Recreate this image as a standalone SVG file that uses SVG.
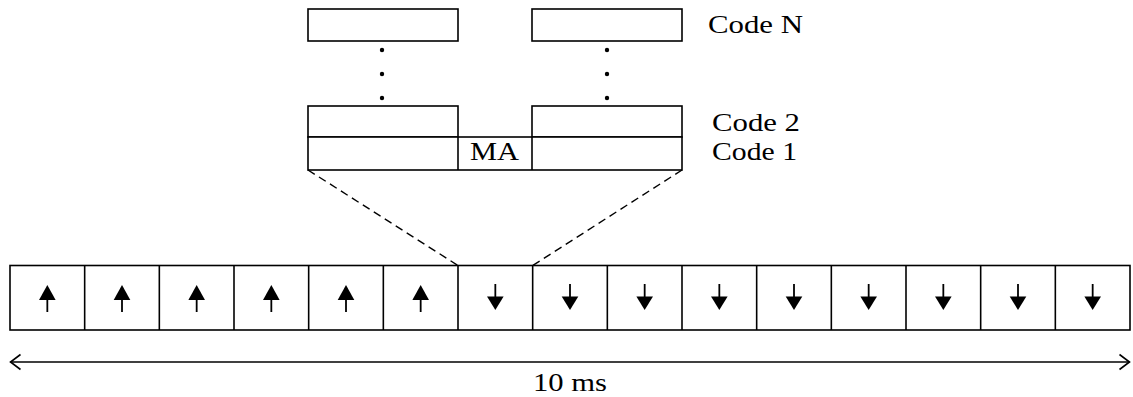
<svg xmlns="http://www.w3.org/2000/svg" width="1133" height="397" viewBox="0 0 1133 397">
  <style>
    .box { fill: #fff; stroke: #000; stroke-width: 1.6; }
    .ln { stroke: #000; stroke-width: 1.6; fill: none; }
    .dash { stroke: #000; stroke-width: 1.4; fill: none; stroke-dasharray: 8 5; }
    .lbl { font-family: "Liberation Serif", "Times New Roman", serif; font-size: 26px; fill: #000; }
    .tri { fill: #000; }
    .dot { fill: #000; }
  </style>
  <defs>
    <g id="up">
      <line x1="0" y1="298" x2="0" y2="312" stroke="#000" stroke-width="1.8"/>
      <polygon class="tri" points="0,285 -8.3,300 8.3,300"/>
    </g>
    <g id="down">
      <line x1="0" y1="284" x2="0" y2="298" stroke="#000" stroke-width="1.8"/>
      <polygon class="tri" points="0,310 -8.3,296.5 8.3,296.5"/>
    </g>
  </defs>

  <!-- Code N row -->
  <g id="codeN">
    <rect class="box" x="308" y="9" width="150" height="32"/>
    <rect class="box" x="532" y="9" width="150" height="32"/>
    <text class="lbl" x="708" y="33" textLength="95" lengthAdjust="spacingAndGlyphs">Code N</text>
  </g>

  <!-- vertical ellipsis between Code N and Code 2 -->
  <g id="ellipsis">
    <circle class="dot" cx="382" cy="50" r="2.2"/>
    <circle class="dot" cx="382" cy="74" r="2.2"/>
    <circle class="dot" cx="382" cy="98" r="2.2"/>
    <circle class="dot" cx="607" cy="50" r="2.2"/>
    <circle class="dot" cx="607" cy="74" r="2.2"/>
    <circle class="dot" cx="607" cy="98" r="2.2"/>
  </g>

  <!-- Code 2 row -->
  <g id="code2">
    <rect class="box" x="308" y="106" width="150" height="31"/>
    <rect class="box" x="532" y="106" width="150" height="31"/>
    <text class="lbl" x="712" y="131" textLength="88" lengthAdjust="spacingAndGlyphs">Code 2</text>
  </g>

  <!-- Code 1 row with MA slot -->
  <g id="code1">
    <rect class="box" x="308" y="137" width="374" height="33"/>
    <line class="ln" x1="458" y1="137" x2="458" y2="170"/>
    <line class="ln" x1="532" y1="137" x2="532" y2="170"/>
    <text class="lbl" x="712" y="160" textLength="85" lengthAdjust="spacingAndGlyphs">Code 1</text>
  </g>
  <g id="ma">
    <text class="lbl" x="470" y="160" textLength="49" lengthAdjust="spacingAndGlyphs">MA</text>
  </g>

  <!-- frame of 15 slots -->
  <g id="frame">
    <rect class="box" x="10" y="265.5" width="1120" height="64.5"/>
    <g class="ln">
      <line x1="84.67" y1="265.5" x2="84.67" y2="330"/>
      <line x1="159.33" y1="265.5" x2="159.33" y2="330"/>
      <line x1="234" y1="265.5" x2="234" y2="330"/>
      <line x1="308.67" y1="265.5" x2="308.67" y2="330"/>
      <line x1="383.33" y1="265.5" x2="383.33" y2="330"/>
      <line x1="458" y1="265.5" x2="458" y2="330"/>
      <line x1="532.67" y1="265.5" x2="532.67" y2="330"/>
      <line x1="607.33" y1="265.5" x2="607.33" y2="330"/>
      <line x1="682" y1="265.5" x2="682" y2="330"/>
      <line x1="756.67" y1="265.5" x2="756.67" y2="330"/>
      <line x1="831.33" y1="265.5" x2="831.33" y2="330"/>
      <line x1="906" y1="265.5" x2="906" y2="330"/>
      <line x1="980.67" y1="265.5" x2="980.67" y2="330"/>
      <line x1="1055.33" y1="265.5" x2="1055.33" y2="330"/>
    </g>
    <!-- uplink slots -->
    <use href="#up" x="47.33"/>
    <use href="#up" x="122"/>
    <use href="#up" x="196.67"/>
    <use href="#up" x="271.33"/>
    <use href="#up" x="346"/>
    <use href="#up" x="420.67"/>
    <!-- downlink slots -->
    <use href="#down" x="495.33"/>
    <use href="#down" x="570"/>
    <use href="#down" x="644.67"/>
    <use href="#down" x="719.33"/>
    <use href="#down" x="794"/>
    <use href="#down" x="868.67"/>
    <use href="#down" x="943.33"/>
    <use href="#down" x="1018"/>
    <use href="#down" x="1092.67"/>
  </g>

  <!-- connectors -->
  <g id="connectors">
    <line class="dash" x1="308" y1="170" x2="458" y2="265.5"/>
    <line class="dash" x1="682" y1="170" x2="532.67" y2="265.5"/>
    <line class="ln" x1="10.5" y1="362" x2="1129.5" y2="362"/>
    <polyline class="ln" points="20.5,354.5 10.5,362 20.5,369.5"/>
    <polyline class="ln" points="1119.5,354.5 1129.5,362 1119.5,369.5"/>
  </g>

  <g id="duration">
    <text class="lbl" x="533" y="391" textLength="74" lengthAdjust="spacingAndGlyphs">10 ms</text>
  </g>
</svg>
